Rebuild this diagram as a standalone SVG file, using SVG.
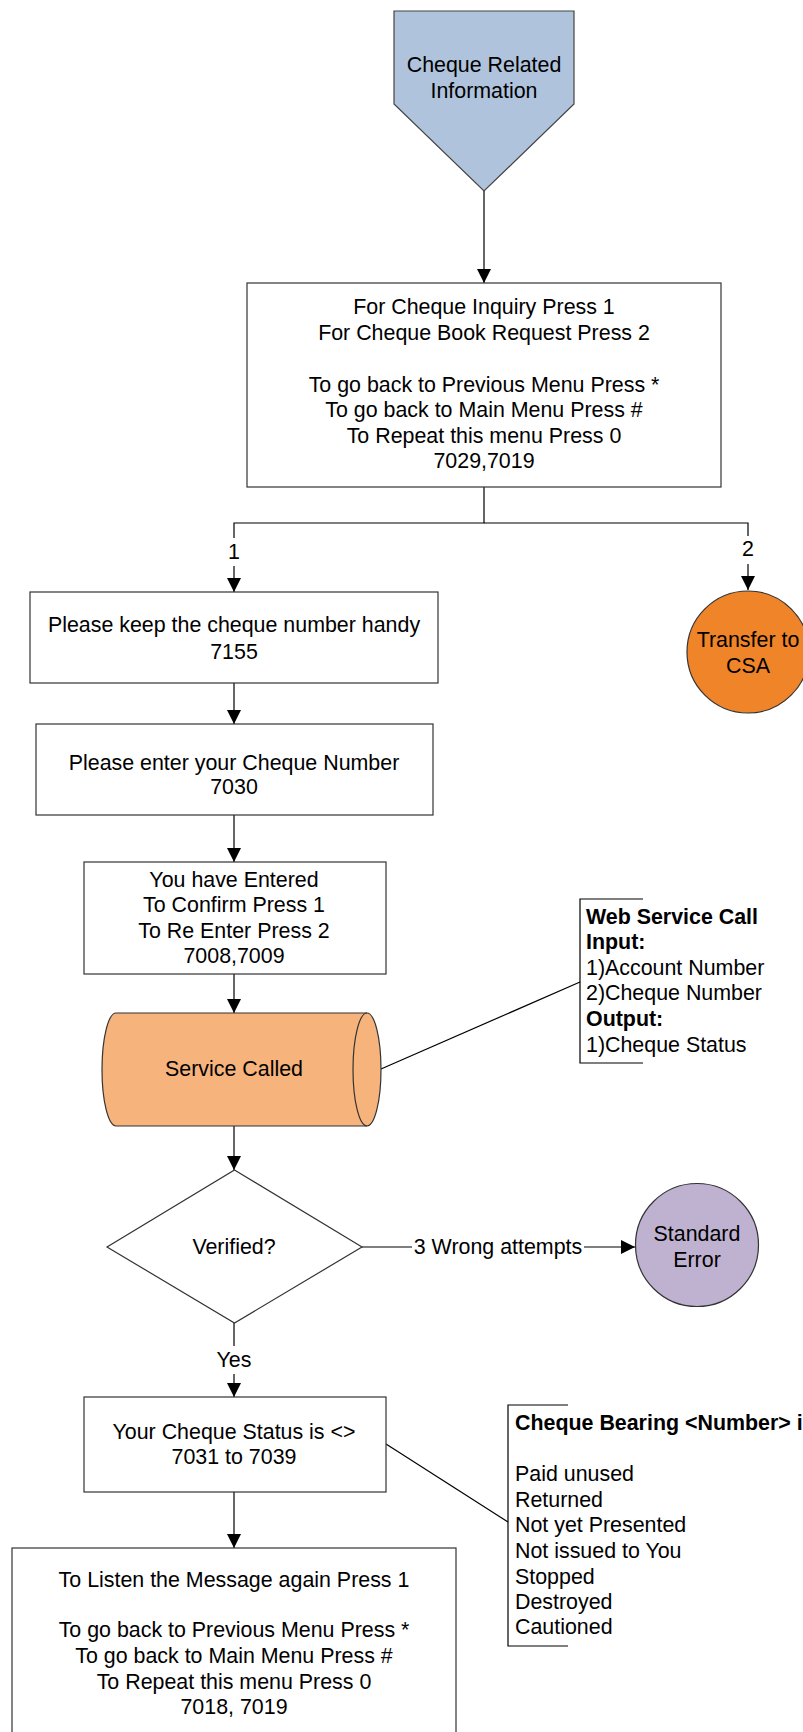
<svg xmlns="http://www.w3.org/2000/svg" width="803" height="1732" viewBox="0 0 803 1732">
<style>
text{font-family:"Liberation Sans",Arial,sans-serif;font-size:21.4px;fill:#000}
.c{text-anchor:middle;dominant-baseline:central}
.l{dominant-baseline:central}
.b{font-weight:bold}
.box{fill:#fff;stroke:#333;stroke-width:1.2}
.ln{fill:none;stroke:#000;stroke-width:1.2}
</style>
<defs>
<marker id="ah" viewBox="0 0 10 10" refX="10" refY="5" markerWidth="14" markerHeight="14" markerUnits="userSpaceOnUse" orient="auto">
<path d="M0,0 L10,5 L0,10 Z" fill="#000"/>
</marker>
</defs>
<rect width="803" height="1732" fill="#fff"/>
<g id="connectors">
<line class="ln" x1="484" y1="191" x2="484" y2="283" marker-end="url(#ah)"/>
<polyline class="ln" points="484,487 484,523 234,523 234,538"/>
<line class="ln" x1="234" y1="566" x2="234" y2="592" marker-end="url(#ah)"/>
<polyline class="ln" points="484,523 748,523 748,536"/>
<line class="ln" x1="748" y1="564" x2="748" y2="590" marker-end="url(#ah)"/>
<line class="ln" x1="234" y1="683" x2="234" y2="724" marker-end="url(#ah)"/>
<line class="ln" x1="234" y1="815" x2="234" y2="862" marker-end="url(#ah)"/>
<line class="ln" x1="234" y1="974" x2="234" y2="1013" marker-end="url(#ah)"/>
<line class="ln" x1="234" y1="1126" x2="234" y2="1170" marker-end="url(#ah)"/>
<line class="ln" x1="362" y1="1247" x2="412" y2="1247"/>
<line class="ln" x1="584" y1="1247" x2="635" y2="1247" marker-end="url(#ah)"/>
<line class="ln" x1="234" y1="1323" x2="234" y2="1346"/>
<line class="ln" x1="234" y1="1374" x2="234" y2="1397" marker-end="url(#ah)"/>
<line class="ln" x1="234" y1="1492" x2="234" y2="1548" marker-end="url(#ah)"/>
<line class="ln" x1="381" y1="1069" x2="580" y2="982" stroke-width="1"/>
<line class="ln" x1="386" y1="1444" x2="508" y2="1522" stroke-width="1"/>
<text class="c" x="234" y="552">1</text>
<text class="c" x="748" y="549">2</text>
<text class="c" x="498" y="1247">3 Wrong attempts</text>
<text class="c" x="234" y="1360">Yes</text>
</g>
<g id="start">
<path d="M394,11 L574,11 L574,104 L484,191 L394,104 Z" fill="#B0C3DC" stroke="#444" stroke-width="1.2"/>
<text class="c" x="484" y="65">Cheque Related</text>
<text class="c" x="484" y="91">Information</text>
</g>
<g id="menu1">
<rect class="box" x="247" y="283" width="474" height="204"/>
<text class="c" x="484" y="307">For Cheque Inquiry Press 1</text>
<text class="c" x="484" y="333">For Cheque Book Request Press 2</text>
<text class="c" x="484" y="385">To go back to Previous Menu Press *</text>
<text class="c" x="484" y="410">To go back to Main Menu Press #</text>
<text class="c" x="484" y="436">To Repeat this menu Press 0</text>
<text class="c" x="484" y="461">7029,7019</text>
</g>
<g id="transfer">
<circle cx="748" cy="652" r="61" fill="#F08429" stroke="#333" stroke-width="1.2"/>
<text class="c" x="748" y="640">Transfer to</text>
<text class="c" x="748" y="666">CSA</text>
</g>
<g id="keep">
<rect class="box" x="30" y="592" width="408" height="91"/>
<text class="c" x="234" y="625">Please keep the cheque number handy</text>
<text class="c" x="234" y="652">7155</text>
</g>
<g id="enter">
<rect class="box" x="36" y="724" width="397" height="91"/>
<text class="c" x="234" y="763">Please enter your Cheque Number</text>
<text class="c" x="234" y="787">7030</text>
</g>
<g id="confirm">
<rect class="box" x="84" y="862" width="302" height="112"/>
<text class="c" x="234" y="880">You have Entered</text>
<text class="c" x="234" y="905">To Confirm Press 1</text>
<text class="c" x="234" y="931">To Re Enter Press 2</text>
<text class="c" x="234" y="956">7008,7009</text>
</g>
<g id="service">
<path d="M116,1013 L367,1013 A14,56.5 0 0 1 367,1126 L116,1126 A14,56.5 0 0 1 116,1013 Z" fill="#F7B37C" stroke="#333" stroke-width="1.2"/>
<path d="M367,1013 A14,56.5 0 0 0 367,1126" fill="none" stroke="#333" stroke-width="1.2"/>
<text class="c" x="234" y="1069">Service Called</text>
</g>
<g id="ws-note">
<polyline class="ln" points="643,899 580,899 580,1063 643,1063" stroke="#444" stroke-width="1"/>
<text class="l b" x="586" y="917">Web Service Call</text>
<text class="l b" x="586" y="942">Input:</text>
<text class="l" x="586" y="968">1)Account Number</text>
<text class="l" x="586" y="993">2)Cheque Number</text>
<text class="l b" x="586" y="1019">Output:</text>
<text class="l" x="586" y="1045">1)Cheque Status</text>
</g>
<g id="verified">
<path d="M234.5,1170 L362,1247 L234.5,1323 L107,1247 Z" fill="#fff" stroke="#333" stroke-width="1.2"/>
<text class="c" x="234" y="1247">Verified?</text>
</g>
<g id="std-error">
<circle cx="697" cy="1245" r="61.5" fill="#BFB2D1" stroke="#333" stroke-width="1.2"/>
<text class="c" x="697" y="1234">Standard</text>
<text class="c" x="697" y="1260">Error</text>
</g>
<g id="status">
<rect class="box" x="84" y="1397" width="302" height="95"/>
<text class="c" x="234" y="1432">Your Cheque Status is &lt;&gt;</text>
<text class="c" x="234" y="1457">7031 to 7039</text>
</g>
<g id="status-note">
<polyline class="ln" points="568,1405 508,1405 508,1646 568,1646" stroke="#444" stroke-width="1"/>
<text class="l b" x="515" y="1423">Cheque Bearing &lt;Number&gt; is</text>
<text class="l" x="515" y="1474">Paid unused</text>
<text class="l" x="515" y="1500">Returned</text>
<text class="l" x="515" y="1525">Not yet Presented</text>
<text class="l" x="515" y="1551">Not issued to You</text>
<text class="l" x="515" y="1577">Stopped</text>
<text class="l" x="515" y="1602">Destroyed</text>
<text class="l" x="515" y="1627">Cautioned</text>
</g>
<g id="menu2">
<rect class="box" x="12" y="1548" width="444" height="200"/>
<text class="c" x="234" y="1580">To Listen the Message again Press 1</text>
<text class="c" x="234" y="1630">To go back to Previous Menu Press *</text>
<text class="c" x="234" y="1656">To go back to Main Menu Press #</text>
<text class="c" x="234" y="1682">To Repeat this menu Press 0</text>
<text class="c" x="234" y="1707">7018, 7019</text>
</g>
</svg>
